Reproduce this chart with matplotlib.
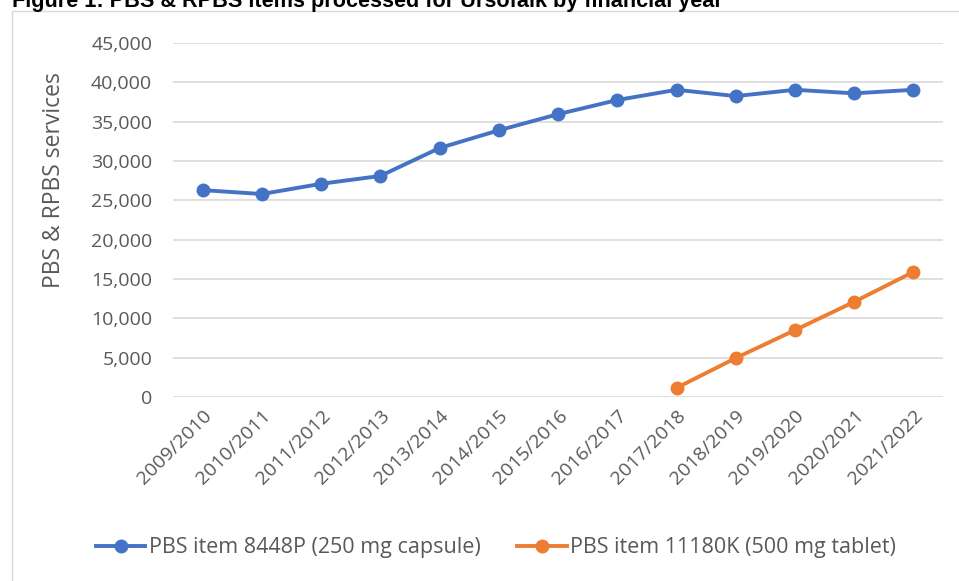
# Ursofalk PBS & RPBS items processed, by financial year

import matplotlib
matplotlib.use('Agg')
import matplotlib.pyplot as plt
from matplotlib.patches import Rectangle
from matplotlib.ticker import FuncFormatter

years = ['2009/2010', '2010/2011', '2011/2012', '2012/2013', '2013/2014',
         '2014/2015', '2015/2016', '2016/2017', '2017/2018', '2018/2019',
         '2019/2020', '2020/2021', '2021/2022']
capsule_250 = [26300, 25800, 27100, 28100, 31650, 33900, 35950, 37750,
               39050, 38250, 39050, 38600, 39050]
tablet_years = ['2017/2018', '2018/2019', '2019/2020', '2020/2021', '2021/2022']
tablet_500 = [1150, 4950, 8500, 12100, 15900]

blue = '#4472c4'
orange = '#ed7d31'
grey = '#595959'

plt.rcParams['font.family'] = ['Open Sans', 'DejaVu Sans']

fig = plt.figure(figsize=(9.59, 5.81), dpi=100)
ax = fig.add_axes([0.1804, 0.3167, 0.803, 0.6093])

x_all = list(range(len(years)))
x_tab = [years.index(y) for y in tablet_years]

ax.plot(x_all, capsule_250, color=blue, linewidth=2.8, marker='o', markersize=9,
        label='PBS item 8448P (250 mg capsule)', clip_on=False, zorder=3)
ax.plot(x_tab, tablet_500, color=orange, linewidth=2.8, marker='o', markersize=9,
        label='PBS item 11180K (500 mg tablet)', clip_on=False, zorder=3)

ax.set_xlim(-0.5, len(years) - 0.5)
ax.set_ylim(0, 45000)
ax.set_yticks(range(0, 45001, 5000))
ax.yaxis.set_major_formatter(FuncFormatter(lambda v, p: '{:,.0f}'.format(v)))
ax.set_xticks(x_all)
ax.set_xticklabels(years, rotation=45, ha='right', rotation_mode='anchor')
ax.grid(axis='y', color='#d9d9d9', linewidth=1.2)
ax.set_axisbelow(True)
for s in ax.spines.values():
  s.set_visible(False)
ax.tick_params(length=0, labelsize=14, colors=grey)
ax.tick_params(axis='y', pad=15)
ax.tick_params(axis='x', pad=7)

# y label sits a bit above the plot centre, as in the source
fig.text(54 / 959, 1 - 180 / 581, 'PBS & RPBS services', rotation=90, fontsize=16.5,
         color=grey, ha='center', va='center')

fig.legend(loc='center', bbox_to_anchor=(0.517, 0.057), ncol=2, frameon=False,
           fontsize=15.5, labelcolor=grey, handlelength=2.3, handletextpad=0.15,
           columnspacing=1.7)

fig.patches.append(Rectangle((12 / 959, -0.01), 0.99, 1 - 11 / 581 + 0.01,
                             transform=fig.transFigure, fill=False,
                             edgecolor='#d9d9d9', linewidth=1))

# title is cut off at the top edge in the source image
fig.text(12 / 959, 1 - 7 / 581, 'Figure 1: PBS & RPBS items processed for Ursofalk by financial year',
         fontsize=15.6, fontweight='bold', family='Liberation Sans', va='baseline', ha='left')

fig.savefig('out.png', dpi=100)
